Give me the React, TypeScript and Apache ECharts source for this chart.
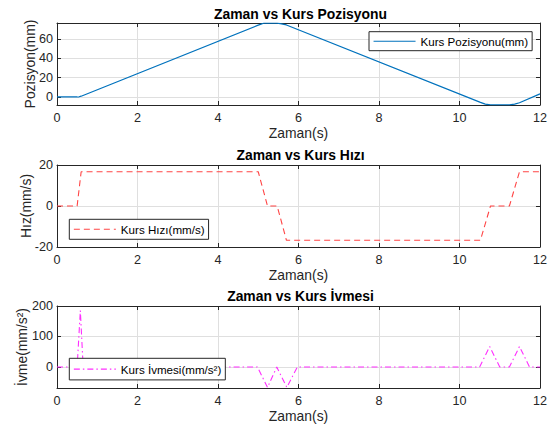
import React, { useEffect, useRef } from "react";
import * as echarts from "echarts";

// ---- data ----
const posT = [0, 0.5, 0.55, 0.6, 5.0, 5.07, 5.13, 5.47, 5.58, 5.7, 10.52, 10.64, 10.77, 11.24, 11.37, 11.49, 12];
const posY = [0, 0, 0.2, 0.8, 74.3, 75.4, 76.3, 76.3, 75.6, 74.5, -5.6, -7.4, -8.2, -8.2, -7.4, -6.0, 3.2];

const velT = [0, 0.5, 0.6, 5.0, 5.23, 5.47, 5.7, 10.52, 10.77, 11.24, 11.49, 12];
const velY = [0, 0, 16.7, 16.7, 0, 0, -16.7, -16.7, 0, 0, 16.7, 16.7];

const accT = [0, 0.5, 0.58, 0.65, 4.98, 5.23, 5.46, 5.71, 5.97, 10.5, 10.75, 11.0, 11.24, 11.49, 11.74, 12];
const accY = [0, 0, 185, 0, 0, -67, 0, -67, 0, 0, 67, 0, 0, 67, 0, 0];

const xTicks = { min: 0, max: 12, interval: 2 };
const titles = ["Zaman vs Kurs Pozisyonu", "Zaman vs Kurs Hızı", "Zaman vs Kurs İvmesi"];
const seriesNames = ["Kurs Pozisyonu(mm)", "Kurs Hızı(mm/s)", "Kurs İvmesi(mm/s²)"];
const yNames = ["Pozisyon(mm)", "Hız(mm/s)", "İvme(mm/s²)"];
const xName = "Zaman(s)";

const FONT = "'Liberation Sans', Arial, Helvetica, sans-serif";
const AX = "#262626";
const GRID = "#dfdfdf";

const pairs = (t: number[], y: number[]) => t.map((v, i) => [v, y[i]]);

export default function App() {
  const ref = useRef<HTMLDivElement>(null);
  useEffect(() => {
    if (!ref.current) return;
    const chart = echarts.init(ref.current, null, { renderer: "svg" });

    const gridTops = [23, 165, 306];
    const grids = gridTops.map((t) => ({ left: 57, top: t, width: 487, height: 82 }));

    const yCfg = [
      { min: -8.3, max: 76.5, step: 20, gap: 20.5, showMin: false, showMax: false },
      { min: -20, max: 20, step: 20, gap: 24, showMin: true, showMax: true },
      { min: -69, max: 200, step: 100, gap: 28, showMin: false, showMax: true },
    ];

    const xAxes: any[] = [];
    const yAxes: any[] = [];
    grids.forEach((_, g) => {
      xAxes.push({
        type: "value",
        gridIndex: g,
        position: "bottom",
        min: xTicks.min,
        max: xTicks.max,
        interval: xTicks.interval,
        name: xName,
        nameLocation: "middle",
        nameGap: 20.5,
        nameMoveOverlap: false,
        nameTextStyle: { fontFamily: FONT, fontSize: 13.9, color: AX },
        axisLine: { show: true, onZero: false, lineStyle: { color: AX, width: 1 } },
        axisTick: { show: true, inside: true, length: 4, lineStyle: { color: AX } },
        axisLabel: { margin: 6, fontFamily: FONT, fontSize: 12.6, color: AX },
        splitLine: { show: true, lineStyle: { color: GRID, width: 1 } },
      });
      xAxes.push({
        type: "value",
        gridIndex: g,
        position: "top",
        min: xTicks.min,
        max: xTicks.max,
        interval: xTicks.interval,
        axisLine: { show: true, onZero: false, lineStyle: { color: AX, width: 1 } },
        axisTick: { show: true, inside: true, length: 4, lineStyle: { color: AX } },
        axisLabel: { show: false },
        splitLine: { show: false },
      });
      const c = yCfg[g];
      yAxes.push({
        type: "value",
        gridIndex: g,
        position: "left",
        min: c.min,
        max: c.max,
        minInterval: c.step,
        maxInterval: c.step,
        name: yNames[g],
        nameLocation: "middle",
        nameGap: c.gap,
        nameMoveOverlap: false,
        nameTextStyle: { fontFamily: FONT, fontSize: 13.9, color: AX },
        axisLine: { show: true, onZero: false, lineStyle: { color: AX, width: 1 } },
        axisTick: { show: true, inside: true, length: 4, lineStyle: { color: AX } },
        axisLabel: {
          margin: 4,
          fontFamily: FONT,
          fontSize: 12.6,
          color: AX,
          showMinLabel: c.showMin,
          showMaxLabel: c.showMax,
        },
        splitLine: { show: true, lineStyle: { color: GRID, width: 1 } },
      });
      yAxes.push({
        type: "value",
        gridIndex: g,
        position: "right",
        min: c.min,
        max: c.max,
        minInterval: c.step,
        maxInterval: c.step,
        axisLine: { show: true, onZero: false, lineStyle: { color: AX, width: 1 } },
        axisTick: { show: true, inside: true, length: 4, lineStyle: { color: AX } },
        axisLabel: { show: false },
        splitLine: { show: false },
      });
    });

    const legendBase = {
      orient: "horizontal",
      itemWidth: 42,
      itemHeight: 12,
      itemGap: 0,
      borderColor: AX,
      borderWidth: 1,
      borderRadius: 0,
      backgroundColor: "#ffffff",
      selectedMode: false,
      itemStyle: { opacity: 0 },
      lineStyle: { width: 1.1 },
      textStyle: { fontFamily: FONT, fontSize: 11.6, color: "#000" },
    };

    chart.setOption({
      animation: false,
      backgroundColor: "#ffffff",
      title: titles.map((t, i) => ({
        text: t,
        left: 300.5,
        top: [6.8, 147.5, 289.2][i],
        textAlign: "center",
        padding: 0,
        textStyle: { fontFamily: FONT, fontSize: 13.9, fontWeight: "bold", color: "#000" },
      })),
      grid: grids,
      xAxis: xAxes,
      yAxis: yAxes,
      legend: [
        { ...legendBase, data: [seriesNames[0]], left: 369, top: 31.7, padding: [3.5, 4, 3.5, 4] },
        { ...legendBase, data: [seriesNames[1]], left: 69.3, top: 219.3, padding: [4, 4, 4, 4] },
        { ...legendBase, data: [seriesNames[2]], left: 69.3, top: 358.3, padding: [4.8, 4, 4.8, 4] },
      ],
      series: [
        {
          name: seriesNames[0],
          type: "line",
          xAxisIndex: 0,
          yAxisIndex: 0,
          symbol: "none",
          data: pairs(posT, posY),
          lineStyle: { color: "#0072BD", width: 1.2 },
          itemStyle: { color: "#0072BD" },
        },
        {
          name: seriesNames[1],
          type: "line",
          xAxisIndex: 2,
          yAxisIndex: 2,
          symbol: "none",
          data: pairs(velT, velY),
          lineStyle: { color: "#ff4545", width: 1.1, type: [6, 4] },
          itemStyle: { color: "#ff4545" },
        },
        {
          name: seriesNames[2],
          type: "line",
          xAxisIndex: 4,
          yAxisIndex: 4,
          symbol: "none",
          data: pairs(accT, accY),
          lineStyle: { color: "#ff2eff", width: 1.1, type: [6, 3, 1.5, 3] },
          itemStyle: { color: "#ff2eff" },
        },
      ],
    });
    return () => chart.dispose();
  }, []);
  return (
    <div
      ref={ref}
      style={{ position: "fixed", left: 0, top: 0, width: 550, height: 431, background: "#fff" }}
    />
  );
}
